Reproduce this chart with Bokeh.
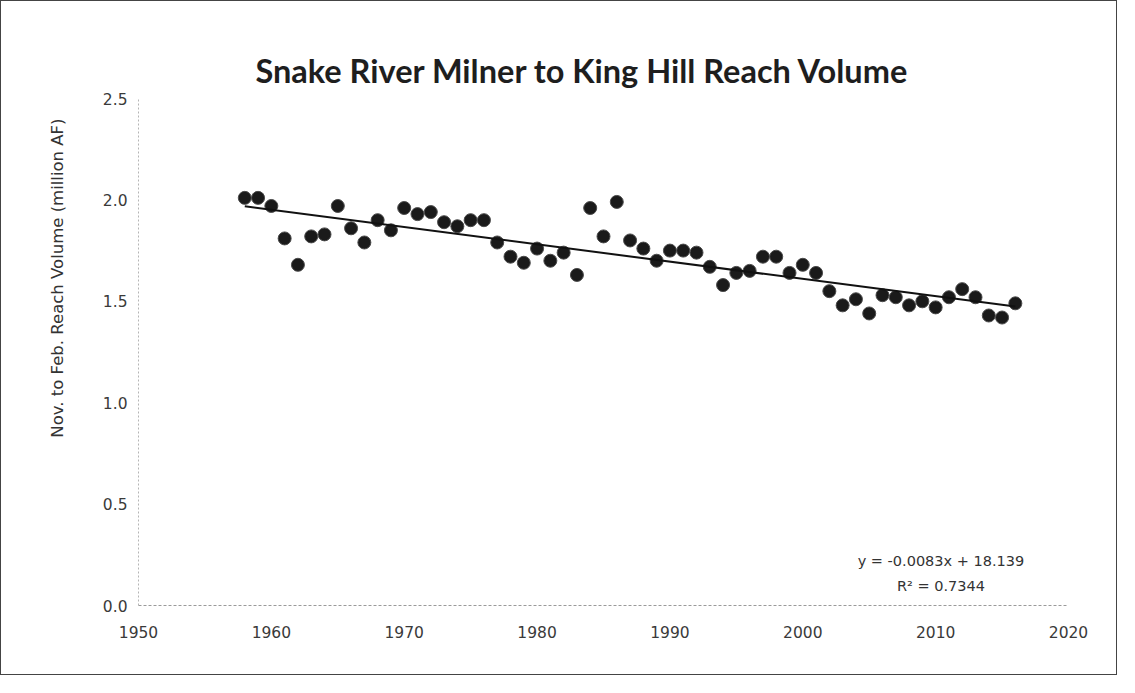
import numpy as np
from bokeh.plotting import figure
from bokeh.models import Range1d, FixedTicker, Title, Label, NumeralTickFormatter
from bokeh.embed import file_html
from bokeh.resources import INLINE

# ---- data ----
years = list(range(1958, 2017))
volume = [2.01, 2.01, 1.97, 1.81, 1.68, 1.82, 1.83, 1.97, 1.86, 1.79,
          1.90, 1.85, 1.96, 1.93, 1.94, 1.89, 1.87, 1.90, 1.90, 1.79,
          1.72, 1.69, 1.76, 1.70, 1.74, 1.63, 1.96, 1.82, 1.99, 1.80,
          1.76, 1.70, 1.75, 1.75, 1.74, 1.67, 1.58, 1.64, 1.65, 1.72,
          1.72, 1.64, 1.68, 1.64, 1.55, 1.48, 1.51, 1.44, 1.53, 1.52,
          1.48, 1.50, 1.47, 1.52, 1.56, 1.52, 1.43, 1.42, 1.49]
x_ticks = [1950, 1960, 1970, 1980, 1990, 2000, 2010, 2020]
y_ticks = [0.0, 0.5, 1.0, 1.5, 2.0, 2.5]
title_text = "Snake River Milner to King Hill Reach Volume"
y_label = "Nov. to Feb. Reach Volume (million AF)"
eq_text = "y = -0.0083x + 18.139"
r2_text = "R\u00b2 = 0.7344"

TICK_FONT = "DejaVu Sans"

p = figure(width=1117, height=675, output_backend="svg", toolbar_location=None,
           x_range=Range1d(1950, 2020), y_range=Range1d(0, 2.5),
           min_border_left=137, min_border_right=50, min_border_top=97, min_border_bottom=71,
           title=None)
p.styles = {"border": "1px solid #444444"}
p.outline_line_color = None
p.background_fill_color = "white"
p.border_fill_color = "white"
p.xgrid.grid_line_color = None
p.ygrid.grid_line_color = None

# title
t = Title(text=title_text, align="left", offset=117, text_font="Lato",
          text_font_size="32.5px", text_font_style="bold", text_color="#1e1e1e",
          standoff=18)
p.add_layout(t, "above")

# axes
p.xaxis.ticker = FixedTicker(ticks=x_ticks)
p.yaxis.ticker = FixedTicker(ticks=y_ticks)
p.yaxis.formatter = NumeralTickFormatter(format="0.0")
for ax in (p.xaxis[0], p.yaxis[0]):
    ax.major_label_text_font = TICK_FONT
    ax.major_label_text_font_size = "15.5px"
    ax.major_label_text_color = "#3a3a3a"
    ax.major_tick_line_color = None
    ax.minor_tick_line_color = None
p.xaxis.axis_line_color = "#9a9a9a"
p.xaxis.axis_line_dash = "3 2"
p.yaxis.axis_line_color = "#b5b5b5"
p.yaxis.axis_line_dash = "2 2"
p.xaxis.major_label_standoff = 14
p.yaxis.major_label_standoff = 5

yl = Title(text=y_label, align="right", offset=20, text_font=TICK_FONT,
           text_font_size="16.5px", text_font_style="normal", text_color="#333333",
           standoff=66)
p.add_layout(yl, "left")

# data points
p.scatter(years, volume, size=13, fill_color="#1a1a1a", line_color="#4a4a4a", line_width=1)

# linear trend fitted to the data
coef = np.polyfit(years, volume, 1)
tx = [years[0], years[-1]]
ty = [coef[0] * v + coef[1] for v in tx]
p.line(tx, ty, line_color="#111111", line_width=2)

# equation labels
p.add_layout(Label(x=2010.4, y=0.22, text=eq_text, text_align="center", text_baseline="middle",
                   text_font=TICK_FONT, text_font_size="14.5px", text_color="#333333"))
p.add_layout(Label(x=2010.4, y=0.095, text=r2_text, text_align="center", text_baseline="middle",
                   text_font=TICK_FONT, text_font_size="14.5px", text_color="#333333"))

open("out.html", "w").write(file_html(p, INLINE))
